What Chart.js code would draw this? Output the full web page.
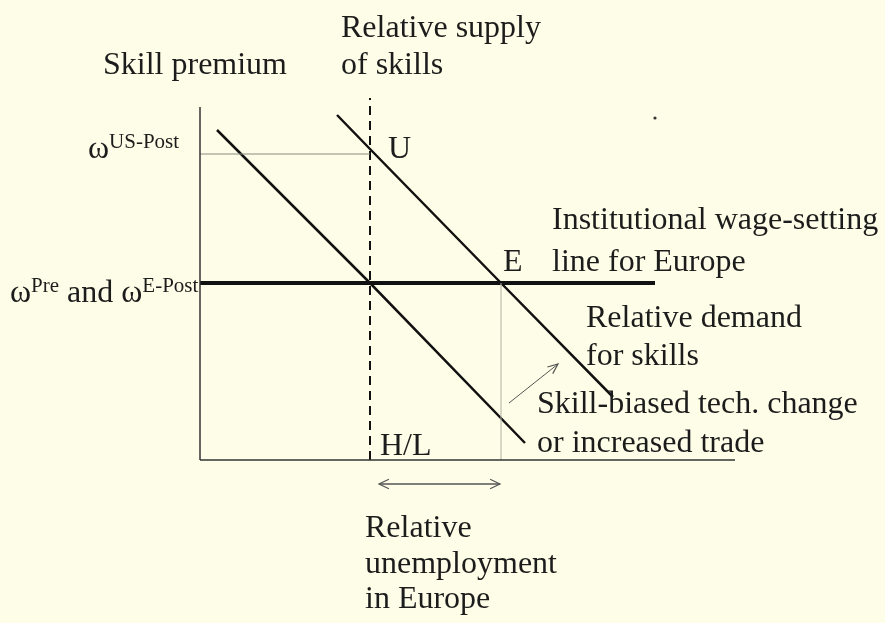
<!DOCTYPE html>
<html>
<head>
<meta charset="utf-8">
<script src="https://cdn.jsdelivr.net/npm/chart.js@4.4.0/dist/chart.umd.min.js"></script>
<style>
  html, body { margin: 0; padding: 0; background: #fefee8; }
  #wrap { width: 885px; height: 623px; }
</style>
</head>
<body>
<div id="wrap"><canvas id="diagram"></canvas></div>
<script>
// Diagrama: prêmio de qualificação x oferta relativa (1 unidade = 50px)
const axisXEnd = 10.7
const axisYEnd = 7.06
const supplyHL = 3.4
const supplyTop = 7.24
const wageUS = 6.12
const wagePre = 3.54
const wageLineEnd = 9.1
const employE = 6.02

const demandOldX = [0.34, 3.4, 6.5]
const demandOldY = [6.6, 3.54, 0.34]
const demandNewX = [2.74, 3.4, 6.02, 8.26]
const demandNewY = [6.9, 6.22, 3.54, 1.26]

const shiftArrowX = [6.18, 7.16]
const shiftArrowY = [1.14, 1.92]
const unempArrowX = [3.58, 6.0]
const unempArrowY = -0.48
const dotPoint = [9.1, 6.84]

// textos (posição em unidades do gráfico, linha de base)
const labels = [
  { x: -1.94, y: 7.72, parts: [{ t: 'Skill premium' }] },
  { x: 2.82, y: 8.46, parts: [{ t: 'Relative supply' }] },
  { x: 2.82, y: 7.72, parts: [{ t: 'of skills' }] },
  { x: -2.24, y: 6.04, parts: [{ t: 'ω' }, { t: 'US-Post', sup: true }] },
  { x: -3.8, y: 3.16, parts: [{ t: 'ω' }, { t: 'Pre', sup: true }, { t: ' and ω' }, { t: 'E-Post', sup: true }] },
  { x: 3.76, y: 6.04, parts: [{ t: 'U' }] },
  { x: 6.06, y: 3.78, parts: [{ t: 'E' }] },
  { x: 7.04, y: 4.62, parts: [{ t: 'Institutional wage-setting' }] },
  { x: 7.04, y: 3.78, parts: [{ t: 'line for Europe' }] },
  { x: 7.72, y: 2.66, parts: [{ t: 'Relative demand' }] },
  { x: 7.72, y: 1.9, parts: [{ t: 'for skills' }] },
  { x: 6.74, y: 0.94, parts: [{ t: 'Skill-biased tech. change' }] },
  { x: 6.74, y: 0.16, parts: [{ t: 'or increased trade' }] },
  { x: 3.6, y: 0.1, parts: [{ t: 'H/L' }] },
  { x: 3.3, y: -1.54, parts: [{ t: 'Relative' }] },
  { x: 3.3, y: -2.26, parts: [{ t: 'unemployment' }] },
  { x: 3.3, y: -2.96, parts: [{ t: 'in Europe' }] },
]

function pts(xs, ys) {
  return xs.map((x, i) => ({ x: x, y: ys[i] }))
}

function linha(data, color, width, dash) {
  return {
    data: data,
    showLine: true,
    borderColor: color,
    borderWidth: width,
    borderDash: dash || [],
    pointRadius: 0,
    tension: 0,
    clip: false,
  }
}

const datasets = [
  linha(pts([0, axisXEnd], [0, 0]), '#333', 1.5),
  linha(pts([0, 0], [0, axisYEnd]), '#333', 1.5),
  linha(pts([0, supplyHL], [wageUS, wageUS]), '#8a8a80', 1),
  linha(pts([employE, employE], [0, wagePre]), '#b0b0a4', 1),
  linha(pts([supplyHL, supplyHL], [0, supplyTop]), '#111', 2, [9, 6]),
  linha(pts([0, wageLineEnd], [wagePre, wagePre]), '#111', 4),
  linha(pts(demandOldX, demandOldY), '#111', 2.5),
  linha(pts(demandNewX, demandNewY), '#111', 2.5),
  linha(pts(shiftArrowX, shiftArrowY), '#555', 1),
  linha(pts(unempArrowX, [unempArrowY, unempArrowY]), '#555', 1.3),
]

function ponta(ctx, tx, ty, fx, fy, len, ang) {
  const a = Math.atan2(ty - fy, tx - fx)
  ctx.beginPath()
  ctx.moveTo(tx - len * Math.cos(a - ang), ty - len * Math.sin(a - ang))
  ctx.lineTo(tx, ty)
  ctx.lineTo(tx - len * Math.cos(a + ang), ty - len * Math.sin(a + ang))
  ctx.stroke()
}

const overlay = {
  id: 'overlay',
  afterDatasetsDraw(chart) {
    const ctx = chart.ctx
    const sx = chart.scales.x, sy = chart.scales.y
    const px = v => sx.getPixelForValue(v)
    const py = v => sy.getPixelForValue(v)
    ctx.save()
    ctx.strokeStyle = '#555'
    ctx.lineWidth = 1.2
    // setas
    ponta(ctx, px(shiftArrowX[1]), py(shiftArrowY[1]), px(shiftArrowX[0]), py(shiftArrowY[0]), 11, 0.4)
    ponta(ctx, px(unempArrowX[0]), py(unempArrowY), px(unempArrowX[1]), py(unempArrowY), 11, 0.45)
    ponta(ctx, px(unempArrowX[1]), py(unempArrowY), px(unempArrowX[0]), py(unempArrowY), 11, 0.45)
    // ponto solto
    ctx.fillStyle = '#333'
    ctx.beginPath()
    ctx.arc(px(dotPoint[0]), py(dotPoint[1]), 1.6, 0, Math.PI * 2)
    ctx.fill()
    // textos
    ctx.fillStyle = '#1c1c1c'
    ctx.textBaseline = 'alphabetic'
    ctx.textAlign = 'left'
    labels.forEach(l => {
      let cx = px(l.x)
      const by = py(l.y)
      l.parts.forEach(p => {
        ctx.font = (p.sup ? 21 : 32) + 'px "Liberation Serif", "Times New Roman", serif'
        ctx.fillText(p.t, cx, p.sup ? by - 10 : by)
        cx += ctx.measureText(p.t).width
      })
    })
    ctx.restore()
  }
}

const myChart_diagram = new Chart(document.getElementById('diagram'), {
  type: 'scatter',
  data: { datasets: datasets },
  options: {
    responsive: true,
    maintainAspectRatio: false,
    animation: false,
    events: [],
    layout: { padding: { left: 200, right: 0, top: 0, bottom: 163 } },
    scales: {
      x: { type: 'linear', min: 0, max: 13.7, display: false },
      y: { type: 'linear', min: 0, max: 9.2, display: false },
    },
    plugins: {
      legend: { display: false },
      tooltip: { enabled: false },
    },
  },
  plugins: [overlay],
})
</script>
</body>
</html>
